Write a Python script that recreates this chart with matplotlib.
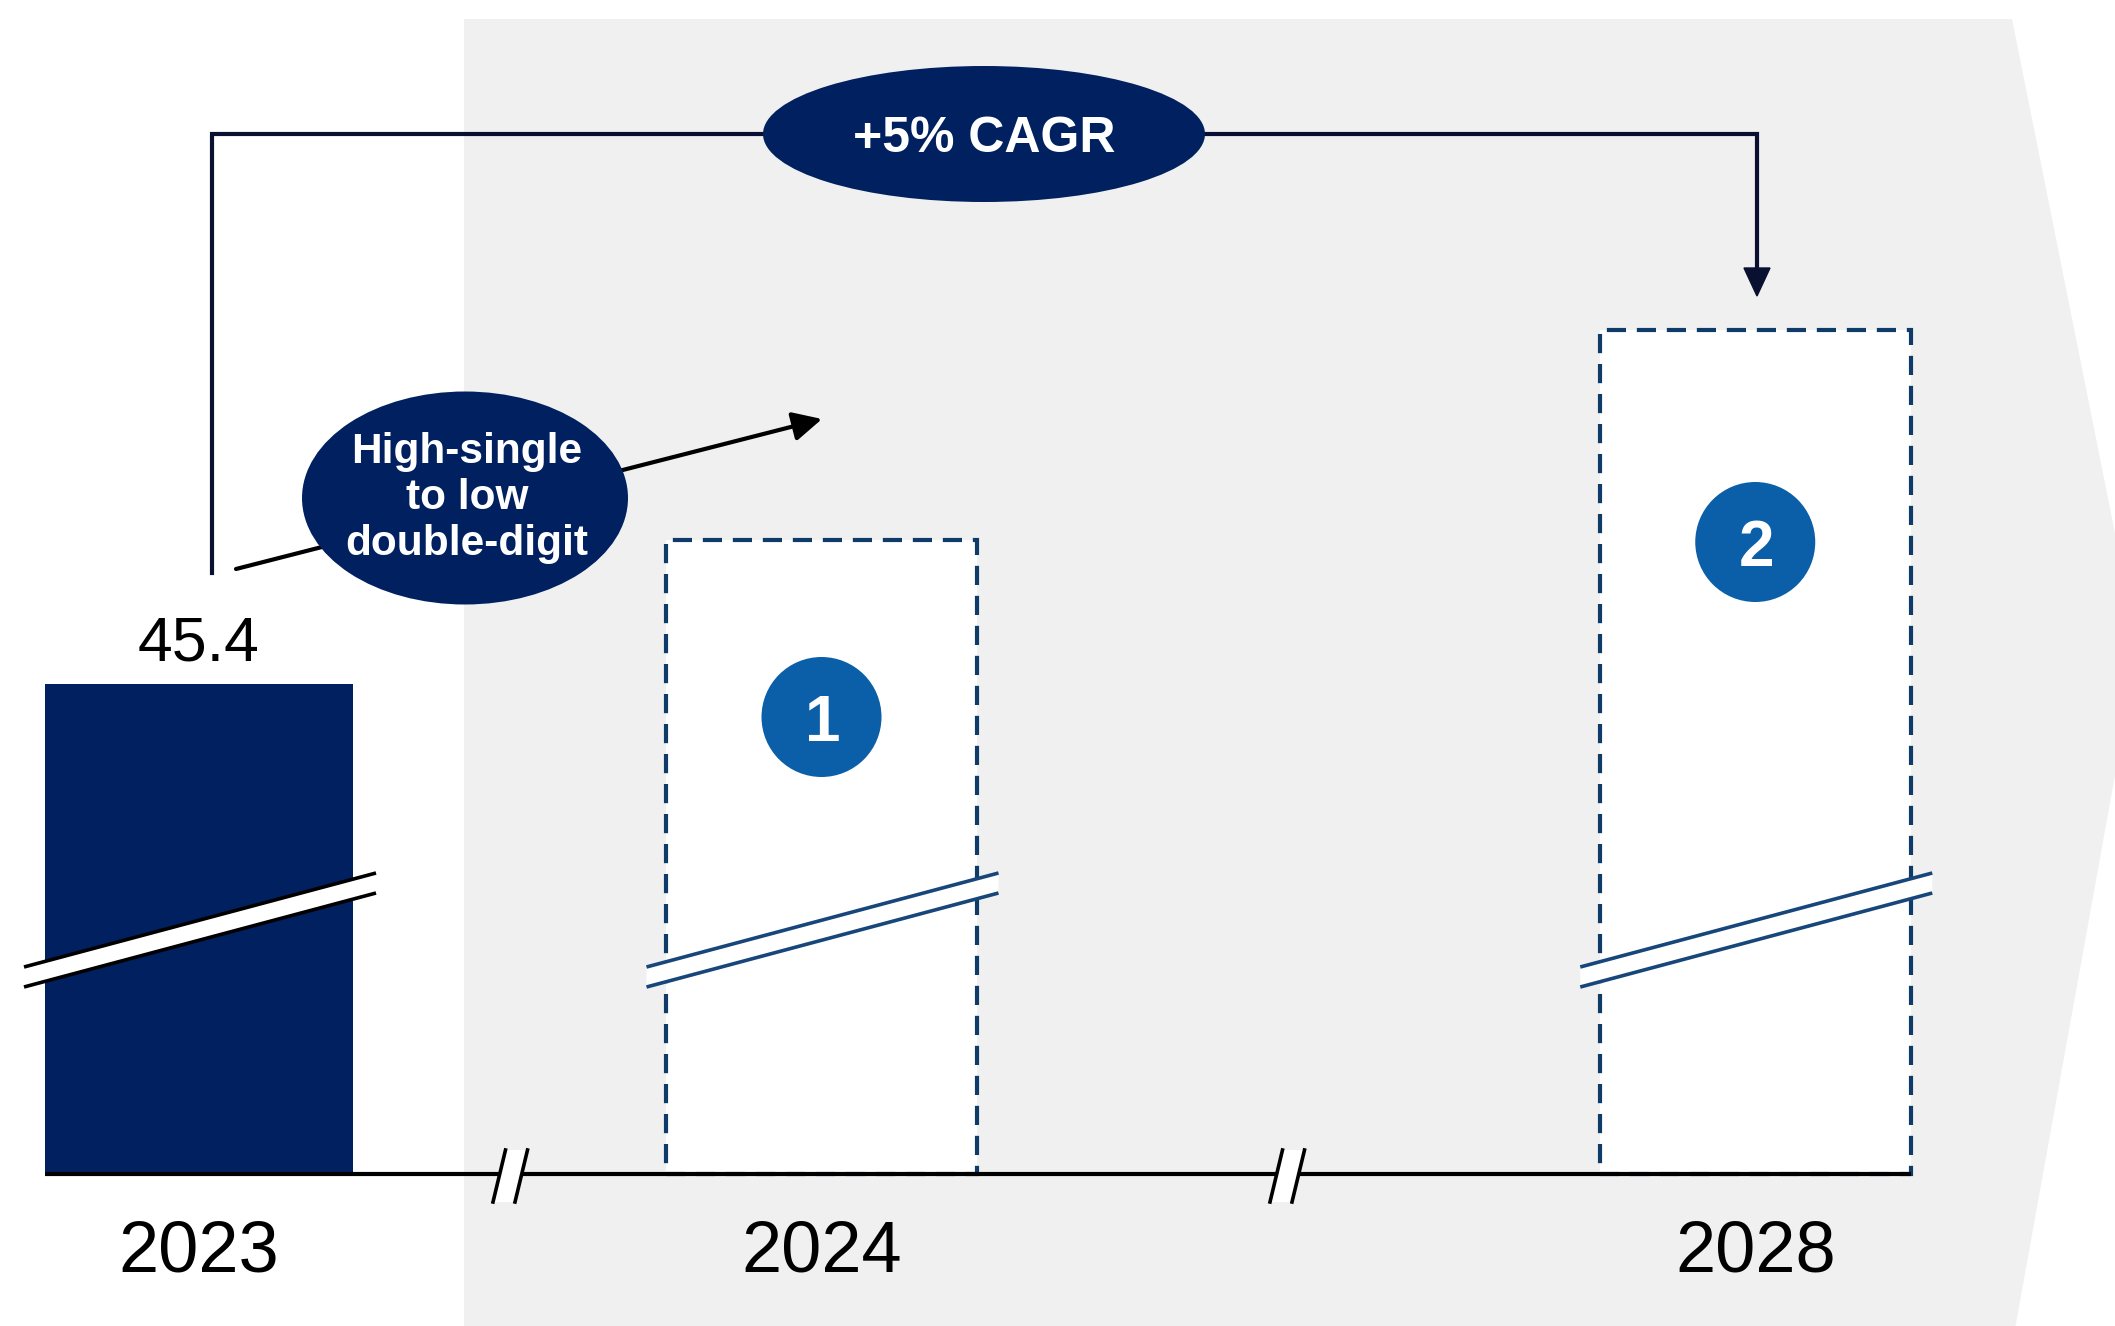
import matplotlib.pyplot as plt
from matplotlib.patches import Polygon, Ellipse

plt.rcParams['font.family'] = ['Liberation Sans', 'DejaVu Sans']

# data
years = ['2023', '2024', '2028']
values = [45.4, 58.7, 78.2]
value_labels = ['45.4', '', '']
markers = ['', '1', '2']
cagr_label = '+5% CAGR'
growth_label = ['High-single', 'to low', 'double-digit']

navy = '#00205F'
box_c = '#0E3B68'
brk_c = '#17477A'
dot_c = '#0B5EA8'
grey = '#F0F0F0'

W, H = 2115, 1326
fig = plt.figure(figsize=(W / 100, H / 100), dpi=100)
ax = fig.add_axes([0, 0, 1, 1])

# layout: broken category axis, 2023 and 2024 one step apart, 2028 further out
x_pos = [0, 1, 2.5]
ux = 622.5          # px per x step
uy = 490 / 45.4     # px per value unit
x0 = 199            # px of first bar centre
base = 1174         # px of baseline (from top)
ax.set_xlim(-x0 / ux, (W - x0) / ux)
ax.set_ylim(-(H - base) / uy, base / uy)
ax.axis('off')


def px(x, y):
    return (x - x0) / ux, (base - y) / uy


def pxs(pts):
    return [px(x, y) for x, y in pts]


# grey chevron background
ax.add_patch(Polygon(pxs([(464, 19), (2012, 19), (2138, 648), (2013, 1340), (464, 1340)]),
                     closed=True, facecolor=grey, edgecolor='none', zorder=0))

# bars
ax.bar(x_pos[0], values[0], width=0.495, color=navy, zorder=2)
ax.bar(x_pos[1:], values[1:], width=0.5, facecolor='white', edgecolor=box_c,
       linewidth=3.0, linestyle=(0, (4.6, 2.6)), zorder=2)

# break bands on the bars
for i, xp in enumerate(x_pos):
    xc = x0 + xp * ux
    lc = 'black' if i == 0 else brk_c
    xl, xr = xc - 175, xc + 177
    ax.add_patch(Polygon(pxs([(xl, 967), (xr, 873), (xr, 893), (xl, 987)]),
                         closed=True, facecolor='white', edgecolor='none', zorder=3))
    for dy in (0, 20):
        (a, b), (c, d) = px(xl, 967 + dy), px(xr, 873 + dy)
        ax.plot([a, c], [b, d], color=lc, lw=2.6, zorder=4, solid_capstyle='butt')

# baseline
(a, b), (c, d) = px(45, base), px(1911, base)
ax.plot([a, c], [0, 0], color='black', lw=3.0, zorder=5, solid_capstyle='butt')

# axis break marks
for bx in (510, 1287):
    ax.add_patch(Polygon(pxs([(bx - 17, 1202), (bx - 5, 1150), (bx + 18, 1150), (bx + 5, 1202)]),
                         closed=True, facecolor='white', edgecolor='none', zorder=6))
    for off in (-17, 5):
        (a, b), (c, d) = px(bx + off, 1202), px(bx + off + 12.5, 1150)
        ax.plot([a, c], [b, d], color='black', lw=2.6, zorder=7)

# value label and year labels
for i, xp in enumerate(x_pos):
    xc = x0 + xp * ux
    if value_labels[i]:
        ax.text(*px(xc, 660), value_labels[i], ha='center', va='baseline',
                fontsize=45, color='black', zorder=8)
    ax.text(*px(xc, 1272), years[i], ha='center', va='baseline',
            fontsize=52, color='black', zorder=8)

# numbered markers
marker_y = [0, 717, 542]
for i, xp in enumerate(x_pos):
    if not markers[i]:
        continue
    xc = x0 + xp * ux
    ax.add_patch(Ellipse(px(xc, marker_y[i]), 120 / ux, 120 / uy,
                         facecolor=dot_c, edgecolor='none', zorder=8))
    ax.text(*px(xc + 1, marker_y[i] + 24), markers[i], ha='center', va='baseline',
            fontsize=46, fontweight='bold', color='white', zorder=9)

# CAGR connector 2023 -> 2028
conn_c = '#0A1030'
ax.plot(*zip(*pxs([(212, 573), (212, 134), (1757, 134), (1757, 272)])),
        color=conn_c, lw=3.0, zorder=9, solid_joinstyle='miter')
ax.add_patch(Polygon(pxs([(1744, 268), (1770, 268), (1757, 296)]), closed=True,
                     facecolor=conn_c, edgecolor=conn_c, lw=1, zorder=9))
ax.add_patch(Ellipse(px(984, 134), 442 / ux, 136 / uy,
                     facecolor=navy, edgecolor='none', zorder=10))
ax.text(*px(984, 152), cagr_label, ha='center', va='baseline',
        fontsize=36, fontweight='bold', color='white', zorder=11)

# short-term growth arrow
ax.annotate('', xy=px(822, 419), xytext=px(236, 569),
            arrowprops=dict(arrowstyle='-|>,head_length=0.4,head_width=0.2',
                            mutation_scale=44, color='black', lw=3.0,
                            shrinkA=0, shrinkB=0), zorder=9)
ax.add_patch(Ellipse(px(465, 498), 326 / ux, 213 / uy,
                     facecolor=navy, edgecolor='none', zorder=10))
for line, yb in zip(growth_label, (463, 509, 555)):
    ax.text(*px(467, yb), line, ha='center', va='baseline',
            fontsize=30.5, fontweight='bold', color='white', zorder=11)

fig.savefig('out.png', dpi=100, facecolor='white')
